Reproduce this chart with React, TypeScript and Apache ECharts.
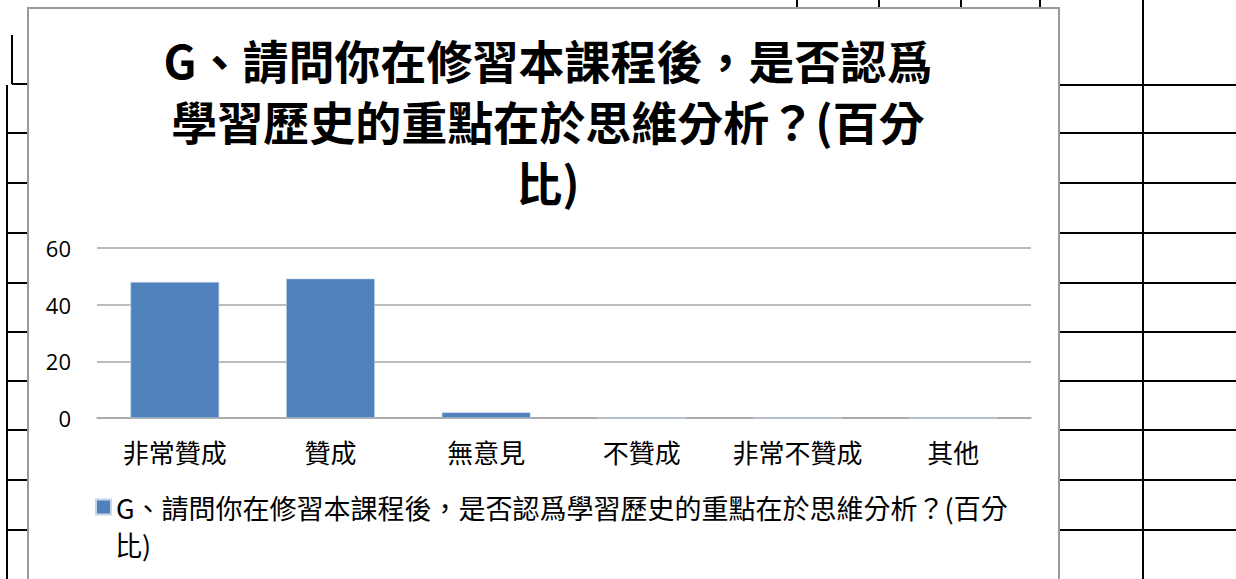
import React, { useEffect, useRef } from "react";
import * as echarts from "echarts";

const categories: string[] = ["非常贊成", "贊成", "無意見", "不贊成", "非常不贊成", "其他"];
const values: number[] = [48, 49.2, 2, 0, 0, 0];
const yTicks: number[] = [0, 20, 40, 60];
const seriesName = "G、請問你在修習本課程後，是否認爲學習歷史的重點在於思維分析？(百分比)";
const titleText = "G、請問你在修習本課程後，是否認爲\n學習歷史的重點在於思維分析？(百分\n比)";
const legendLine1 = "G、請問你在修習本課程後，是否認爲學習歷史的重點在於思維分析？(百分";
const legendLine2 = "比)";

const CJK = '"Noto Sans CJK TC", "Noto Sans CJK SC", sans-serif';

export default function App() {
  const ref = useRef<HTMLDivElement>(null);

  useEffect(() => {
    if (!ref.current) return;
    const chart = echarts.init(ref.current, null, { renderer: "svg" });

    const lineStyle = { stroke: "#000", lineWidth: 2 };
    const bgLines: any[] = [];
    const addLine = (x1: number, y1: number, x2: number, y2: number) =>
      bgLines.push({ type: "line", shape: { x1, y1, x2, y2 }, style: lineStyle, silent: true });

    // spreadsheet grid behind the chart (left side)
    addLine(12, 35, 12, 84);
    addLine(12, 84, 28, 84);
    addLine(7, 85, 7, 579);
    [133, 183, 233, 283, 332, 381, 430, 480, 530].forEach((y) => addLine(7, y, 28, y));
    // right side
    addLine(1143, 0, 1143, 579);
    [85, 133, 183, 233, 283, 332, 381, 430, 480, 530].forEach((y) => addLine(1059, y, 1236, y));
    // top
    [797, 879, 961, 1040].forEach((x) => addLine(x, 0, x, 8));

    chart.setOption({
      animation: false,
      backgroundColor: "#ffffff",
      title: {
        text: titleText,
        left: 543,
        top: 23,
        textAlign: "center",
        textStyle: {
          fontFamily: CJK,
          fontWeight: "bold",
          fontSize: 46,
          lineHeight: 61,
          color: "#000",
        },
      },
      grid: { left: 97, right: 205, top: 248, bottom: 161 },
      xAxis: {
        type: "category",
        data: categories,
        axisLine: { lineStyle: { color: "#a6a6a6", width: 1.5 } },
        axisTick: { show: false },
        axisLabel: {
          fontFamily: CJK,
          fontSize: 26,
          color: "#000",
          margin: 20,
          interval: 0,
        },
      },
      yAxis: {
        type: "value",
        min: yTicks[0],
        max: yTicks[yTicks.length - 1],
        interval: yTicks[1] - yTicks[0],
        axisLine: { show: false },
        axisTick: { show: false },
        axisLabel: {
          fontFamily: '"Open Sans", sans-serif',
          fontSize: 22,
          color: "#000",
          margin: 26,
        },
        splitLine: { lineStyle: { color: "#a6a6a6", width: 1.5 } },
      },
      legend: {
        left: 90,
        top: 487,
        itemWidth: 15,
        itemHeight: 15,
        icon: "rect",
        data: [seriesName],
        formatter: () => legendLine1,
        textStyle: { fontFamily: CJK, fontSize: 27, color: "#000", lineHeight: 30 },
        selectedMode: false,
      },
      series: [
        {
          name: seriesName,
          type: "bar",
          data: values,
          barWidth: "57%",
          itemStyle: { color: "#4f81bd", borderColor: "#c5d5ea", borderWidth: 0.6 },
        },
      ],
      graphic: [
        ...bgLines,
        {
          type: "rect",
          shape: { x: 28, y: 8, width: 1031, height: 600 },
          style: { fill: "transparent", stroke: "#9a9a9a", lineWidth: 2 },
          silent: true,
        },
        {
          type: "text",
          x: 115,
          y: 544,
          style: {
            text: legendLine2,
            fontFamily: CJK,
            fontSize: 27,
            fill: "#000",
            verticalAlign: "middle",
          },
          silent: true,
        },
      ],
    });

    return () => chart.dispose();
  }, []);

  return (
    <div
      ref={ref}
      style={{ position: "absolute", left: 0, top: 0, width: 1236, height: 579 }}
    />
  );
}
